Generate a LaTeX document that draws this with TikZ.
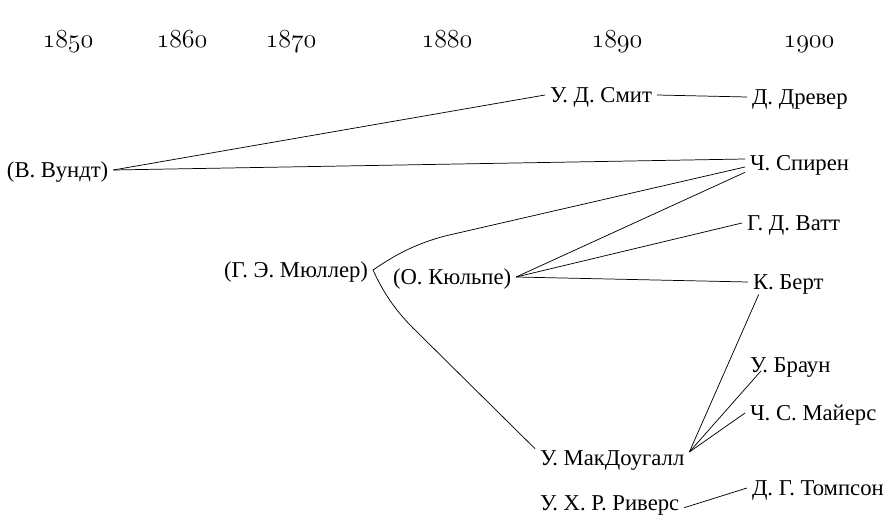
\documentclass[tikz,border=0pt]{standalone}
\usepackage{fix-cm}
\usepackage{fontspec}
\setmainfont{Liberation Serif}
\usetikzlibrary{positioning}

\newcommand\yearfont{\fontencoding{OML}\fontfamily{cmm}\fontseries{m}\fontshape{it}\fontsize{19.5}{22}\selectfont}
\newcommand\namefont{\fontsize{17}{20}\selectfont}

\begin{document}
\begin{tikzpicture}[
    x=0.75pt, y=-0.75pt,
    % Styles
    year/.style={font=\yearfont, inner sep=0pt, anchor=base},
    person/.style={font=\namefont, inner sep=0pt, outer sep=3.75pt, text height=11.3pt, text depth=0pt},
    link/.style={line width=0.55pt, black},
]
\useasboundingbox (0,0) rectangle (889,520);

% Time axis
\node[year] (y1850) at (68,48) {1850};
\node[year] (y1860) at (182,48) {1860};
\node[year] (y1870) at (291,48) {1870};
\node[year] (y1880) at (447,48) {1880};
\node[year] (y1890) at (617,48) {1890};
\node[year] (y1900) at (809,48) {1900};

% Teachers
\node[person, anchor=west] (wundt) at (2,170) {(В. Вундт)};
\node[person, anchor=east] (muller) at (373,270) {(Г. Э. Мюллер)};
\node[person, anchor=west] (kulpe) at (388,277) {(О. Кюльпе)};

% Students
\node[person, anchor=west] (smith) at (545,95) {У. Д. Смит};
\node[person, anchor=west] (mcdougall) at (535,458) {У. МакДоугалл};
\node[person, anchor=west] (rivers) at (535,503) {У. Х. Р. Риверс};

% Right column
\node[person, anchor=west] (drever) at (747,97) {Д. Древер};
\node[person, anchor=west] (spearman) at (745,163) {Ч. Спирен};
\node[person, anchor=west] (watt) at (742,223) {Г. Д. Ватт};
\node[person, anchor=west] (burt) at (748,282) {К. Берт};
\node[person, anchor=west] (brown) at (745,365) {У. Браун};
\node[person, anchor=west] (myers) at (745,413) {Ч. С. Майерс};
\node[person, anchor=west] (thompson) at (747,488) {Д. Г. Томпсон};

% Wundt lines
\draw[link] (wundt.east) -- (smith.west);
\draw[link] (wundt.east) -- ([yshift=3pt]spearman.west);
\draw[link] (smith.east) -- (drever.west);

% Muller fork
\draw[link] (muller.east) .. controls (395,255) and (415,244) .. (445,236) -- ([yshift=-3pt]spearman.west);
\draw[link] (muller.east) .. controls (383,292) and (395,310) .. (413,328) -- ([yshift=7pt]mcdougall.west);

% Kulpe fan
\draw[link] (kulpe.east) -- ([yshift=-7pt]spearman.west);
\draw[link] (kulpe.east) -- (watt.west);
\draw[link] (kulpe.east) -- (burt.west);

% McDougall fan
\coordinate (mcd) at ([yshift=4.5pt]mcdougall.east);
\draw[link] (mcd) -- ([xshift=8pt]burt.south west);
\draw[link] (mcd) -- ([xshift=12pt, yshift=5pt]brown.south west);
\draw[link] (mcd) -- (myers.west);

% Rivers
\draw[link] ([yshift=-3.5pt]rivers.east) -- (thompson.west);

\end{tikzpicture}
\end{document}
